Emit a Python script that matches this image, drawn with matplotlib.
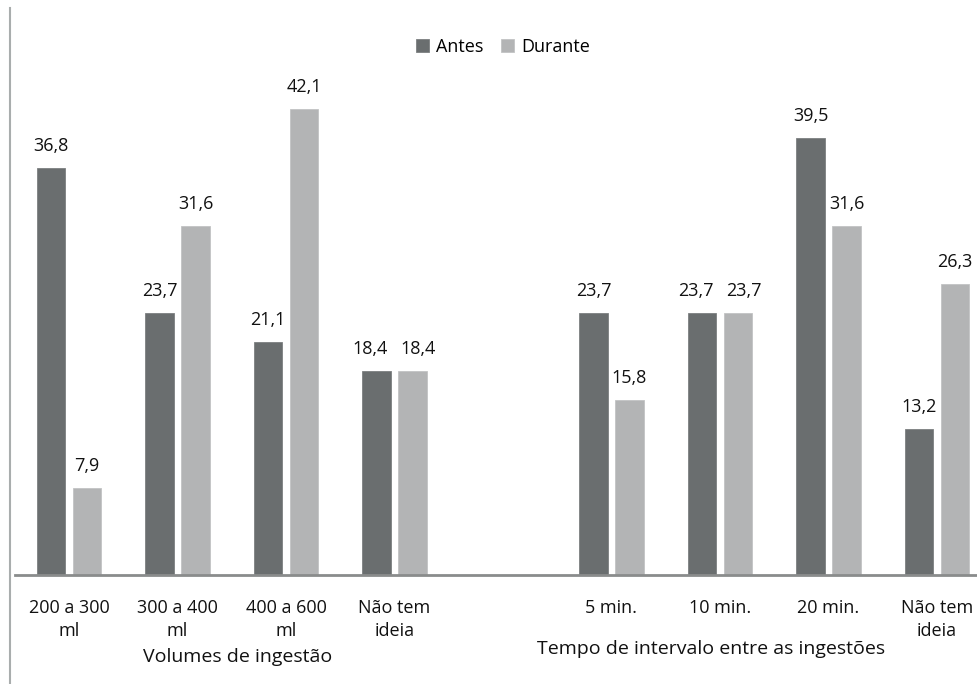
import matplotlib.pyplot as plt
from matplotlib.lines import Line2D
import numpy as np

plt.rcParams['font.family'] = ['Open Sans', 'DejaVu Sans']

volume_labels = ["200 a 300\nml", "300 a 400\nml", "400 a 600\nml", "Não tem\nideia"]
volume_antes = [36.8, 23.7, 21.1, 18.4]
volume_durante = [7.9, 31.6, 42.1, 18.4]

interval_labels = ["5 min.", "10 min.", "20 min.", "Não tem\nideia"]
interval_antes = [23.7, 23.7, 39.5, 13.2]
interval_durante = [15.8, 23.7, 31.6, 26.3]

dark = "#6a6e6f"
light = "#b3b4b5"

W, H = 978, 684
fig = plt.figure(figsize=(W / 100, H / 100), dpi=100)

# one empty slot between the two blocks of categories
slot = 108.5
left_px, base_px = 14.75, 575
ax = fig.add_axes([left_px / W, (H - base_px) / H, 9 * slot / W, 553 / H])

x1 = np.arange(4)
x2 = np.arange(5, 9)
xs = np.concatenate([x1, x2])
antes = volume_antes + interval_antes
durante = volume_durante + interval_durante
labels = volume_labels + interval_labels

bw = 0.265
off = 0.166
b1 = ax.bar(xs - off, antes, bw, color=dark, edgecolor="#7c8081", linewidth=0.6, label="Antes")
b2 = ax.bar(xs + off, durante, bw, color=light, edgecolor="#c2c3c4", linewidth=0.6, label="Durante")

# push labels apart when both bars of a pair have about the same height
for i, (ra, rd) in enumerate(zip(b1, b2)):
    crowded = abs(ra.get_height() - rd.get_height()) < 3
    for rect, side in ((ra, -1), (rd, 1)):
        v = rect.get_height()
        dx = 6 * side if crowded else 0
        ax.annotate(f"{v:.1f}".replace(".", ","),
                    (rect.get_x() + rect.get_width() / 2, v),
                    xytext=(dx, 13), textcoords="offset pixels",
                    ha="center", va="bottom", fontsize=13, color="#111111")

ax.set_xlim(-0.5, 8.5)
ax.set_ylim(0, 50)
ax.set_xticks(xs)
ax.set_xticklabels(labels, fontsize=13, color="#111111", linespacing=1.4)
ax.tick_params(axis="x", length=0, pad=17)
ax.set_yticks([])
for s in ("top", "right", "left"):
    ax.spines[s].set_visible(False)
ax.spines["bottom"].set_color("#8a8c8c")
ax.spines["bottom"].set_linewidth(2)

fig.text(238 / W, 1 - 657 / H, "Volumes de ingestão", ha="center", va="center",
         fontsize=14, color="#111111")
fig.text(711.5 / W, 1 - 649 / H, "Tempo de intervalo entre as ingestões", ha="center", va="center",
         fontsize=14, color="#111111")

fig.legend(handles=[b1, b2], loc="center", bbox_to_anchor=(503 / W, 1 - 47 / H), ncol=2,
           frameon=False, fontsize=13, handlelength=0.7, handleheight=0.7,
           handletextpad=0.4, columnspacing=1.0)

# thin border line down the left side
fig.add_artist(Line2D([9.5 / W, 9.5 / W], [0, 1 - 8 / H], transform=fig.transFigure,
                      color="#a9adad", linewidth=1.5))

fig.savefig("out.png", dpi=100)
